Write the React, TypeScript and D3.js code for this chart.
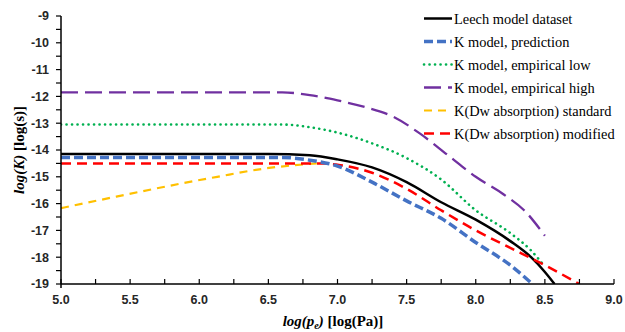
import React from "react";
import * as d3 from "d3";

const W = 625;
const H = 332;

const xTicks = [5.0, 5.5, 6.0, 6.5, 7.0, 7.5, 8.0, 8.5, 9.0];
const yTicks = [-9, -10, -11, -12, -13, -14, -15, -16, -17, -18, -19];

const leechX = [5.0, 6.5, 6.8, 7.0, 7.25, 7.5, 7.75, 8.0, 8.25, 8.4, 8.5, 8.57];
const leechY = [-14.15, -14.15, -14.2, -14.35, -14.65, -15.2, -15.95, -16.6, -17.4, -18.0, -18.55, -19.0];

const predX = [5.0, 6.6, 6.8, 7.0, 7.25, 7.5, 7.75, 8.0, 8.25, 8.41];
const predY = [-14.28, -14.28, -14.38, -14.6, -15.2, -15.9, -16.55, -17.45, -18.3, -19.0];

const lowX = [5.0, 6.6, 6.8, 7.0, 7.25, 7.5, 7.75, 8.0, 8.25, 8.4, 8.5];
const lowY = [-13.05, -13.05, -13.15, -13.35, -13.75, -14.3, -15.1, -16.25, -17.1, -17.75, -18.35];

const highX = [5.0, 6.6, 6.8, 7.0, 7.2, 7.4, 7.6, 7.8, 8.0, 8.2, 8.35, 8.5];
const highY = [-11.85, -11.85, -11.95, -12.15, -12.4, -12.75, -13.4, -14.2, -15.0, -15.65, -16.25, -17.2];

const stdX = [5.0, 5.4, 5.88, 6.13, 6.49, 6.85];
const stdY = [-16.17, -15.74, -15.24, -15.0, -14.68, -14.5];

const modX = [5.0, 6.9, 7.0, 7.25, 7.5, 7.75, 8.0, 8.25, 8.5, 8.75];
const modY = [-14.5, -14.5, -14.55, -14.85, -15.45, -16.25, -17.0, -17.65, -18.3, -19.0];

const seriesNames = [
  "Leech model dataset",
  "K model, prediction",
  "K model, empirical low",
  "K model, empirical high",
  "K(Dw absorption) standard",
  "K(Dw absorption) modified",
];

type Style = { color: string; width: number; dash?: string; cap?: "round" | "butt" };

const styles: Style[] = [
  { color: "#000000", width: 2.5 },
  { color: "#4472C4", width: 3.5, dash: "9 4" },
  { color: "#00B050", width: 2.6, dash: "0.1 5.4", cap: "round" },
  { color: "#7030A0", width: 2.3, dash: "17 7" },
  { color: "#FFC000", width: 2.2, dash: "8 6" },
  { color: "#FF0000", width: 2.5, dash: "10 6" },
];

const seriesXs = [leechX, predX, lowX, highX, stdX, modX];
const seriesYs = [leechY, predY, lowY, highY, stdY, modY];

export default function App() {
  const left = 61, right = 614, top = 16, bottom = 284;
  const x = d3.scaleLinear().domain([5, 9]).range([left, right]);
  const y = d3.scaleLinear().domain([-19, -9]).range([bottom, top]);

  const line = d3
    .line<[number, number]>()
    .x((d) => x(d[0]))
    .y((d) => y(d[1]))
    .curve(d3.curveMonotoneX);

  const minorX = d3.range(5, 9.001, 0.25);
  const minorY = d3.range(-19, -8.999, 0.5);

  const drawOrder = [4, 3, 2, 0, 5, 1];

  return (
    <svg
      width={W}
      height={H}
      style={{ position: "fixed", left: 0, top: 0, background: "#fff" }}
    >
      <defs>
        <clipPath id="plotclip">
          <rect x={left} y={top - 5} width={right - left + 5} height={bottom - top + 5} />
        </clipPath>
      </defs>
      <rect x={0} y={0} width={W} height={H} fill="#fff" />

      <g clipPath="url(#plotclip)">
        {drawOrder.map((i) => {
          const s = styles[i];
          const pts = seriesXs[i].map((xv, k) => [xv, seriesYs[i][k]] as [number, number]);
          return (
            <path
              key={i}
              d={line(pts) || ""}
              fill="none"
              stroke={s.color}
              strokeWidth={s.width}
              strokeDasharray={s.dash}
              strokeLinecap={s.cap || "butt"}
            />
          );
        })}
      </g>

      {/* axes */}
      <line x1={left} x2={right} y1={bottom} y2={bottom} stroke="#000" strokeWidth={1.5} />
      <line x1={left} x2={left} y1={top} y2={bottom + 4} stroke="#000" strokeWidth={1.5} />
      {minorY.map((v, i) => (
        <line key={"yt" + i} x1={left - 5} x2={left} y1={y(v)} y2={y(v)} stroke="#000" strokeWidth={1.2} />
      ))}
      {minorX.map((v, i) => (
        <line key={"xt" + i} x1={x(v)} x2={x(v)} y1={bottom - 5} y2={bottom} stroke="#000" strokeWidth={1.2} />
      ))}

      {yTicks.map((v) => (
        <text
          key={"yl" + v}
          x={49}
          y={y(v)}
          dy="0.35em"
          textAnchor="end"
          fontFamily="'Liberation Sans', Arial, sans-serif"
          fontWeight="bold"
          fontSize={12.5}
          fill="#262626"
        >
          {v}
        </text>
      ))}
      {xTicks.map((v) => (
        <text
          key={"xl" + v}
          x={x(v)}
          y={300}
          dy="0.35em"
          textAnchor="middle"
          fontFamily="'Liberation Sans', Arial, sans-serif"
          fontWeight="bold"
          fontSize={12.5}
          fill="#262626"
        >
          {v.toFixed(1)}
        </text>
      ))}

      {/* axis titles */}
      <text
        x={333}
        y={326}
        textAnchor="middle"
        fontFamily="'Liberation Serif', 'Times New Roman', serif"
        fontWeight="bold"
        fontSize={15}
        fill="#000"
      >
        <tspan fontStyle="italic">log(p</tspan>
        <tspan fontStyle="italic" fontSize={10} dy={3}>e</tspan>
        <tspan fontStyle="italic" dy={-3}>)</tspan>
        <tspan> [log(Pa)]</tspan>
      </text>
      <text
        transform={`translate(24,${150}) rotate(-90)`}
        textAnchor="middle"
        fontFamily="'Liberation Serif', 'Times New Roman', serif"
        fontWeight="bold"
        fontSize={15}
        fill="#000"
      >
        <tspan fontStyle="italic">log(K)</tspan>
        <tspan> [log(s)]</tspan>
      </text>

      {/* legend */}
      {seriesNames.map((name, i) => {
        const s = styles[i];
        const ly = 18.5 + i * 23;
        return (
          <g key={"lg" + i}>
            <line
              x1={424}
              x2={452}
              y1={ly}
              y2={ly}
              stroke={s.color}
              strokeWidth={s.width}
              strokeDasharray={s.dash}
              strokeLinecap={s.cap || "butt"}
            />
            <text
              x={454}
              y={ly}
              dy="0.35em"
              fontFamily="'Liberation Serif', 'Times New Roman', serif"
              fontSize={14.4}
              fill="#000"
            >
              {name}
            </text>
          </g>
        );
      })}
    </svg>
  );
}
